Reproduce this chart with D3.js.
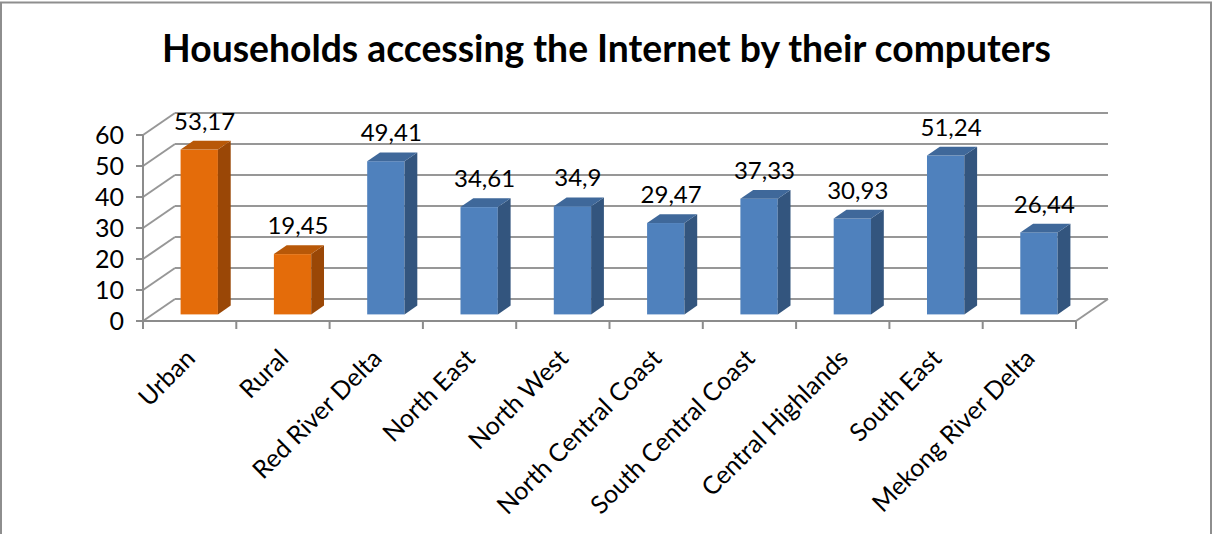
<!DOCTYPE html>
<html>
<head>
<meta charset="utf-8">
<script src="https://cdn.jsdelivr.net/npm/d3@7"></script>
<style>
  html, body { margin: 0; padding: 0; background: #fff; }
  svg { display: block; font-family: Lato, "Open Sans", sans-serif; }
</style>
</head>
<body>
<svg id="chart" width="1213" height="534"></svg>
<script>
// Share of households accessing the Internet by their computers (%)
const categories = ["Urban", "Rural", "Red River Delta", "North East", "North West",
  "North Central Coast", "South Central Coast", "Central Highlands", "South East", "Mekong River Delta"];
const values = [53.17, 19.45, 49.41, 34.61, 34.9, 29.47, 37.33, 30.93, 51.24, 26.44];
const groups = ["area", "area", "region", "region", "region", "region", "region", "region", "region", "region"];
const yTicks = [0, 10, 20, 30, 40, 50, 60];
const titleText = "Households accessing the Internet by their computers";

const palette = {
  area:   { front: "#E46C0A", top: "#B85808", side: "#9A4706" },
  region: { front: "#4F81BD", top: "#3F689A", side: "#33557E" }
};

const svg = d3.select("#chart");
const W = 1213, H = 534;

// plot box (front plane) and the depth offset of the 3D walls
const plotLeft = 143, plotRight = 1076, plotBottom = 321, plotTop = 135;
const depthX = 32, depthY = -22;
const barFront = 0.3, barBack = 0.7;   // bar depth as fraction of the floor depth

const x = d3.scaleBand().domain(categories).range([plotLeft, plotRight])
  .paddingInner(0.6).paddingOuter(0.3);
const y = d3.scaleLinear().domain([0, 60]).range([plotBottom, plotTop]);

const gridColor = "#979797";
const axisColor = "#8c8c8c";

// outer frame
svg.append("rect").attr("x", 1).attr("y", 2.5).attr("width", 1210).attr("height", 540)
  .attr("fill", "none").attr("stroke", "#8e8e8e").attr("stroke-width", 2);

// title
const title = svg.append("text")
  .attr("x", W / 2).attr("y", 62)
  .attr("text-anchor", "middle")
  .attr("font-weight", "bold")
  .attr("font-size", 34)
  .attr("fill", "#000")
  .text(titleText);
{
  const w = title.node().getComputedTextLength();
  title.attr("font-size", 34 * 889 / w);
}

const walls = svg.append("g").attr("fill", "none").attr("stroke-width", 2);

// back wall gridlines
walls.selectAll("line.grid").data(yTicks).join("line")
  .attr("class", "grid")
  .attr("x1", plotLeft + depthX).attr("x2", plotRight + depthX)
  .attr("y1", d => y(d) + depthY).attr("y2", d => y(d) + depthY)
  .attr("stroke", gridColor);

// side wall diagonals
walls.selectAll("line.diag").data(yTicks).join("line")
  .attr("class", "diag")
  .attr("x1", plotLeft).attr("x2", plotLeft + depthX)
  .attr("y1", d => y(d)).attr("y2", d => y(d) + depthY)
  .attr("stroke", gridColor);

// floor: right edge
walls.append("line")
  .attr("x1", plotRight).attr("y1", y(0))
  .attr("x2", plotRight + depthX).attr("y2", y(0) + depthY)
  .attr("stroke", gridColor);

// value axis (front vertical edge) with ticks
walls.append("line")
  .attr("x1", plotLeft).attr("x2", plotLeft).attr("y1", y(0)).attr("y2", y(60))
  .attr("stroke", axisColor);
walls.selectAll("line.ytick").data(yTicks).join("line")
  .attr("class", "ytick")
  .attr("x1", plotLeft - 7).attr("x2", plotLeft)
  .attr("y1", d => y(d)).attr("y2", d => y(d))
  .attr("stroke", axisColor);

// category axis (front floor edge) with ticks at band boundaries
walls.append("line")
  .attr("x1", plotLeft).attr("x2", plotRight).attr("y1", y(0)).attr("y2", y(0))
  .attr("stroke", axisColor);
const step = x.step();
const boundaries = d3.range(categories.length + 1).map(i => plotLeft + i * step);
walls.selectAll("line.xtick").data(boundaries).join("line")
  .attr("class", "xtick")
  .attr("x1", d => d).attr("x2", d => d)
  .attr("y1", y(0)).attr("y2", y(0) + 8)
  .attr("stroke", axisColor);

// y tick labels
svg.append("g").selectAll("text").data(yTicks).join("text")
  .attr("x", 124).attr("y", d => y(d))
  .attr("dy", "0.36em")
  .attr("text-anchor", "end")
  .attr("font-size", 25)
  .attr("fill", "#000")
  .text(d => d);

// 3D bars
const bars = svg.append("g");
const data = categories.map((c, i) => ({ c, v: values[i], g: groups[i] }));
const fx = barFront * depthX, fy = barFront * depthY;
const bdx = (barBack - barFront) * depthX, bdy = (barBack - barFront) * depthY;
const bw = x.bandwidth();

const bar = bars.selectAll("g.bar").data(data).join("g").attr("class", "bar");
// front face
bar.append("rect")
  .attr("x", d => x(d.c) + fx)
  .attr("y", d => y(d.v) + fy)
  .attr("width", bw)
  .attr("height", d => y(0) - y(d.v))
  .attr("fill", d => palette[d.g].front);
// side face
bar.append("polygon")
  .attr("points", d => {
    const xr = x(d.c) + fx + bw, yt = y(d.v) + fy, yb = y(0) + fy;
    return [[xr, yt], [xr + bdx, yt + bdy], [xr + bdx, yb + bdy], [xr, yb]].join(" ");
  })
  .attr("fill", d => palette[d.g].side);
// top face
bar.append("polygon")
  .attr("points", d => {
    const xl = x(d.c) + fx, xr = xl + bw, yt = y(d.v) + fy;
    return [[xl, yt], [xr, yt], [xr + bdx, yt + bdy], [xl + bdx, yt + bdy]].join(" ");
  })
  .attr("fill", d => palette[d.g].top);

// data labels
bars.selectAll("text.value").data(data).join("text")
  .attr("class", "value")
  .attr("x", d => x(d.c) + fx + bw / 2 + bdx / 2 - 1)
  .attr("y", d => y(d.v) + fy + bdy - 11)
  .attr("text-anchor", "middle")
  .attr("font-size", 24)
  .attr("fill", "#000")
  .text(d => String(d.v).replace(".", ","));

// rotated category labels
svg.append("g").selectAll("text").data(categories).join("text")
  .attr("transform", d => `translate(${x(d) + bw / 2 + 7},${y(0) + 39}) rotate(-45)`)
  .attr("text-anchor", "end")
  .attr("font-size", 25)
  .attr("fill", "#000")
  .text(d => d);
</script>
</body>
</html>
